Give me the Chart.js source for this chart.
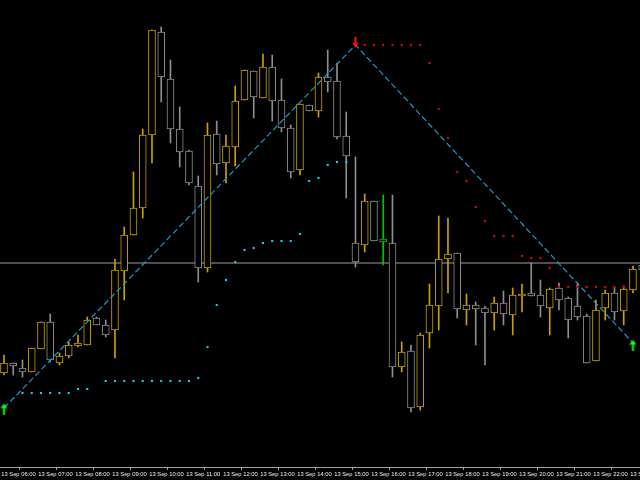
<!DOCTYPE html>
<html><head><meta charset="utf-8">
<script src="https://cdn.jsdelivr.net/npm/chart.js@4.4.0/dist/chart.umd.min.js"></script>
<style>html,body{margin:0;padding:0;background:#000;overflow:hidden}canvas{display:block}</style>
</head><body>
<canvas id="c" width="640" height="480"></canvas>
<script>
// ---- data (M15 candles, price units) ----
const timeLabels = ["13 Sep 06:00","13 Sep 07:00","13 Sep 08:00","13 Sep 09:00","13 Sep 10:00","13 Sep 11:00",
  "13 Sep 12:00","13 Sep 13:00","13 Sep 14:00","13 Sep 15:00","13 Sep 16:00","13 Sep 17:00",
  "13 Sep 18:00","13 Sep 19:00","13 Sep 20:00","13 Sep 21:00","13 Sep 22:00","13 Sep 23:00"];
const openP = [97,107,102,98,121,148,107,114,124,125, 152,145,140,199,235,262,335,438,391,341,
  319,284,202,336,307,323,370,399,372,403, 370,342,300,365,359,393,389,334,227,225,
  269,228,227,103,119,63,137,164,211,217, 160,165,162,157,167,155,174,177,175,162,
  182,172,164,154,109,162,177,159,180,205];
const highP = [115,107,110,122,148,156,117,128,135,153, 153,150,211,243,298,341,440,443,410,363,
  320,294,347,349,335,384,400,399,416,415, 391,345,366,365,397,420,407,358,313,276,
  269,275,275,128,125,137,186,254,252,217, 176,168,164,173,179,182,186,207,190,182,
  187,173,187,156,170,180,183,184,204,206];
const lowP = [95,95,93,98,121,108,105,112,123,125, 145,133,112,170,235,252,307,368,327,303,
  285,188,198,295,287,304,370,352,372,349, 338,292,295,359,353,378,331,272,203,218,
  229,205,93,98,58,60,122,140,177,152, 145,125,105,140,145,135,158,174,153,135,
  160,132,150,107,109,150,150,145,177,199];
const closeP = [107,104,98,122,148,110,114,125,127,150, 145,135,200,235,262,335,440,393,341,318,
  287,202,335,306,324,369,400,373,403,369, 342,298,366,359,393,388,333,314,208,269,
  229,231,103,118,62,135,165,211,216,161, 165,161,157,167,156,175,176,174,164,181,
  170,150,153,107,160,177,158,181,201,200];
const markedCandle = 41;
const N = null;
const sarBelow = [N,N,77,77,77,77,77,77,81,81, N,89,89,89,89,89,89,89,89,89,
  89,92,123,165,190,208,220,222,227,229, 229,229,236,289,292,305,308,308,N,N,
  N,N,N,N,N,N,N,N,N,N, N,N,N,N,N,N,N,N,N,N, N,N,N,N,N,N,N,N,N,N];
const sarAbove = [N,N,N,N,N,N,N,N,N,N, N,N,N,N,N,N,N,N,N,N, N,N,N,N,N,N,N,N,N,N,
  N,N,N,N,N,N,N,N,N,425, 425,425,425,425,425,425,407,361,332,298,
  289,263,249,234,234,234,214,212,212,202, 183,183,183,183,183,183,183,183,N,N];
const zigzagIdx = [0, 38, 68];
const zigzagVal = [62, 425, 127];
const buyIdx = [0, 68];
const buyVal = [61, 124.5];
const sellIdx = [38];
const sellVal = [428];
const bidPrice = 207;

// ---- build ----
const YEL = '#c9a200', GRY = '#8e8e8e', GRN = '#00c400';
const idx = openP.map((_, i) => i);
const col = idx.map(i => i === markedCandle ? GRN : (closeP[i] >= openP[i] ? YEL : GRY));
const XMIN = -0.43, XMAX = 68.76;

function arrow(color, up) {
  const c = document.createElement('canvas');
  c.width = 7; c.height = 11;
  const g = c.getContext('2d');
  g.fillStyle = color;
  g.beginPath();
  if (up) {
    g.moveTo(3.5, 0); g.lineTo(7, 4.5); g.lineTo(4.5, 4.5); g.lineTo(4.5, 11);
    g.lineTo(2.5, 11); g.lineTo(2.5, 4.5); g.lineTo(0, 4.5);
  } else {
    g.moveTo(3.5, 11); g.lineTo(7, 6.5); g.lineTo(4.5, 6.5); g.lineTo(4.5, 0);
    g.lineTo(2.5, 0); g.lineTo(2.5, 6.5); g.lineTo(0, 6.5);
  }
  g.closePath(); g.fill();
  return c;
}
const pts = (arr) => arr.map((v, i) => v === null ? null : {x: i, y: v}).filter(p => p);

new Chart(document.getElementById('c'), {
  type: 'bar',
  data: {
    datasets: [
      { type: 'line', data: [{x: XMIN, y: bidPrice}, {x: XMAX, y: bidPrice}],
        borderColor: '#9e9e9e', borderWidth: 1, pointRadius: 0, order: 10 },
      { data: idx.map(i => ({x: i, y: [lowP[i], highP[i]]})), backgroundColor: col,
        borderWidth: 0, barThickness: 1, grouped: false, order: 6 },
      { data: idx.map(i => ({x: i, y: [Math.min(openP[i], closeP[i]), Math.max(openP[i], closeP[i])]})),
        backgroundColor: '#000', borderColor: col, borderWidth: 1, borderSkipped: false,
        barThickness: 7, grouped: false, order: 5 },
      { type: 'line', data: zigzagIdx.map((x, k) => ({x, y: zigzagVal[k]})),
        borderColor: '#2196c8', borderWidth: 1.2, borderDash: [6, 3], pointRadius: 0, order: 3 },
      { type: 'line', data: pts(sarBelow), showLine: false, pointStyle: 'rect',
        pointRadius: 1.5, backgroundColor: '#18c8f0', borderWidth: 0, order: 2 },
      { type: 'line', data: pts(sarAbove), showLine: false, pointStyle: 'rect',
        pointRadius: 1.5, backgroundColor: '#e80000', borderWidth: 0, order: 2 },
      { type: 'line', data: buyIdx.map((x, k) => ({x, y: buyVal[k]})), showLine: false,
        pointStyle: arrow('#10ff10', true), order: 1 },
      { type: 'line', data: sellIdx.map((x, k) => ({x, y: sellVal[k]})), showLine: false,
        pointStyle: arrow('#ff1010', false), order: 1 }
    ]
  },
  options: {
    responsive: false, animation: false,
    layout: { padding: 0, autoPadding: false },
    plugins: { legend: { display: false }, tooltip: { enabled: false } },
    scales: {
      x: {
        type: 'linear', min: XMIN, max: XMAX, offset: false,
        afterBuildTicks: s => { s.ticks = timeLabels.map((_, k) => ({value: k * 4 - 0.3})); },
        afterFit: s => { s.height = 13; s.paddingLeft = 0; s.paddingRight = 0; },
        grid: { drawOnChartArea: false, color: '#a0a0a0', tickLength: 3 },
        border: { display: true, color: '#a0a0a0' },
        ticks: {
          autoSkip: false, maxRotation: 0, minRotation: 0, align: 'start', padding: 1,
          color: '#f0f0f0',
          font: { family: '"Liberation Sans", sans-serif', size: 5.8 },
          callback: (v, k) => timeLabels[k]
        }
      },
      y: { display: false, min: 3, max: 470 }
    }
  }
});
</script></body></html>
